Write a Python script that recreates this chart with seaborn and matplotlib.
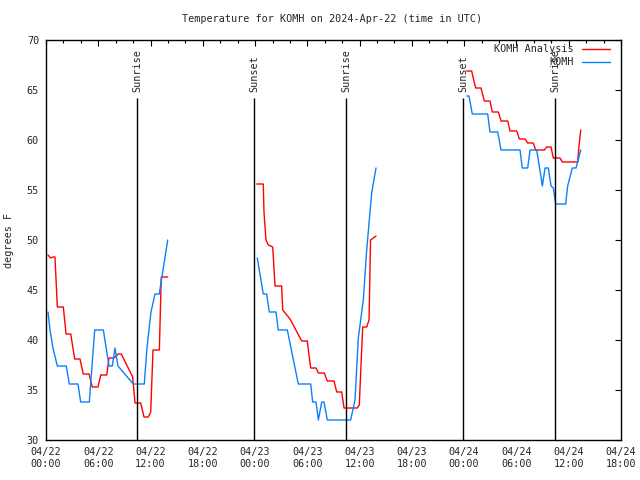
import numpy as np
import pandas as pd
import matplotlib
matplotlib.use("Agg")
import matplotlib.pyplot as plt
import matplotlib.dates as mdates
import seaborn as sns

# hours since 2024-04-22 00:00 UTC
ana_hours = [0.23, 0.54, 0.80, 1.03, 1.30, 1.99, 2.30, 2.84, 3.29, 3.90,
             4.28, 4.94, 5.31, 5.97, 6.28, 6.97, 7.23, 7.81, 8.26, 8.64,
             9.95, 10.22, 10.87, 11.25, 11.74, 12.02, 12.28, 13.01, 13.23, 13.97,
             24.19, 24.94, 25.02, 25.25, 25.52, 26.02, 26.29, 27.05, 27.17, 28.01,
             29.35, 29.99, 30.38, 30.99, 31.26, 31.94, 32.29, 33.06, 33.37, 33.94,
             34.21, 35.73, 35.96, 36.35, 36.81, 37.08, 37.25, 37.88,
             48.29, 48.86, 49.04, 49.32, 49.93, 50.31, 50.96, 51.23, 51.92, 52.23,
             53.00, 53.26, 54.03, 54.33, 54.98, 55.29, 55.93, 56.21, 57.20, 57.47,
             57.97, 58.23, 59.00, 59.26, 61.03, 61.18, 61.38]
ana_temp = [48.5, 48.2, 48.3, 48.3, 43.3, 43.3, 40.6, 40.6, 38.1, 38.1,
            36.6, 36.6, 35.3, 35.3, 36.5, 36.5, 38.2, 38.2, 38.6, 38.6,
            36.3, 33.7, 33.7, 32.3, 32.3, 32.8, 39.0, 39.0, 46.3, 46.3,
            55.6, 55.6, 52.8, 50.0, 49.5, 49.3, 45.4, 45.4, 43.0, 42.1,
            39.9, 39.9, 37.2, 37.2, 36.7, 36.7, 35.9, 35.9, 34.8, 34.8,
            33.2, 33.2, 33.5, 41.3, 41.3, 42.0, 50.0, 50.4,
            66.9, 66.9, 66.2, 65.2, 65.2, 63.9, 63.9, 62.8, 62.8, 61.9,
            61.9, 60.9, 60.9, 60.1, 60.1, 59.7, 59.7, 59.0, 59.0, 59.3,
            59.3, 58.2, 58.2, 57.8, 57.8, 59.4, 61.0]

obs_hours = [0.23, 0.46, 0.80, 1.30, 2.33, 2.67, 3.67, 3.98, 4.97, 5.59,
             6.58, 7.23, 7.61, 7.92, 8.26, 10.02, 11.28, 11.59, 12.05, 12.51,
             13.00, 13.97,
             24.25, 24.94, 25.33, 25.63, 26.40, 26.66, 27.70, 28.96, 30.38, 30.61,
             30.99, 31.26, 31.65, 31.91, 32.29, 34.97, 35.47, 35.85, 36.42, 36.81,
             37.38, 37.88,
             48.29, 48.55, 48.93, 50.70, 50.96, 51.85, 52.23, 54.41, 54.67, 55.29,
             55.56, 56.32, 56.82, 56.97, 57.28, 57.66, 57.97, 58.23, 58.51, 59.65,
             59.88, 60.41, 60.84, 61.38]
obs_temp = [42.8, 41.0, 39.2, 37.4, 37.4, 35.6, 35.6, 33.8, 33.8, 41.0,
            41.0, 37.4, 37.4, 39.2, 37.4, 35.6, 35.6, 39.2, 42.8, 44.6,
            44.6, 50.0,
            48.2, 44.6, 44.6, 42.8, 42.8, 41.0, 41.0, 35.6, 35.6, 33.8,
            33.8, 32.0, 33.8, 33.8, 32.0, 32.0, 34.0, 40.2, 44.0, 49.0,
            54.7, 57.2,
            64.4, 64.4, 62.6, 62.6, 60.8, 60.8, 59.0, 59.0, 57.2, 57.2,
            59.0, 59.0, 56.3, 55.4, 57.2, 57.2, 55.4, 55.2, 53.6, 53.6,
            55.4, 57.2, 57.2, 59.0]

sun_hours = [10.45, 23.87, 34.44, 47.86, 58.42]
sun_labels = ["Sunrise", "Sunset", "Sunrise", "Sunset", "Sunrise"]

start = pd.Timestamp("2024-04-22 00:00")
FS = 7.3


def make_frame(hours, temps, name):
    h = np.array(hours)
    return pd.DataFrame({
        "time": start + pd.to_timedelta(h, unit="h"),
        "temp": temps,
        "series": name,
        "seg": (h // 24).astype(int),  # one line piece per day
    })


df = pd.concat([make_frame(ana_hours, ana_temp, "KOMH Analysis"),
                make_frame(obs_hours, obs_temp, "KOMH")], ignore_index=True)

sns.set_style("white")
plt.rcParams['font.family'] = ['DejaVu Sans Mono', 'DejaVu Sans']

fig = plt.figure(figsize=(6.4, 4.8), dpi=100)
ax = fig.add_axes([46 / 640, 40 / 480, 575 / 640, 400 / 480])

sns.lineplot(data=df, x="time", y="temp", hue="series", units="seg",
             estimator=None, hue_order=["KOMH Analysis", "KOMH"],
             palette={"KOMH Analysis": "#ff0000", "KOMH": "#0a80ff"},
             linewidth=1.0, ax=ax)

# sunrise / sunset markers
sun_times = (start + pd.to_timedelta(sun_hours, unit="h")).to_pydatetime()
ax.vlines(sun_times, 30, 64.2, colors="black", linewidth=1.0)
for t, lab in zip(sun_times, sun_labels):
    ax.text(t, 64.8, lab, rotation=90, ha="center", va="bottom", fontsize=FS)

ax.set_xlim(start.to_pydatetime(), (start + pd.Timedelta(hours=66)).to_pydatetime())
ax.set_ylim(30, 70)
ax.set_yticks(range(30, 71, 5))
ax.xaxis.set_major_locator(mdates.HourLocator(byhour=[0, 6, 12, 18]))
ax.xaxis.set_minor_locator(mdates.HourLocator(byhour=range(0, 24, 2)))
ax.xaxis.set_major_formatter(mdates.DateFormatter("%m/%d\n%H:%M"))
ax.tick_params(which="both", direction="in", top=True, right=True,
               labelsize=FS, width=0.8, color="black")
ax.tick_params(which="major", length=4, pad=5)
ax.tick_params(which="minor", length=2.5)
for s in ax.spines.values():
    s.set_color("black")
    s.set_linewidth(1.0)

ax.set_xlabel("")
ax.set_ylabel("degrees F", fontsize=FS)
ax.yaxis.set_label_coords(-0.055, 0.5)

sns.move_legend(ax, "upper right", bbox_to_anchor=(0.988, 1.0), title=None,
                frameon=False, markerfirst=False, fontsize=FS,
                handlelength=2.8, handletextpad=0.8, labelspacing=0.3,
                borderaxespad=0)

fig.text(332 / 640, 1 - 19 / 480, "Temperature for KOMH on 2024-Apr-22 (time in UTC)",
         ha="center", va="center", fontsize=FS)

fig.savefig("out.png", dpi=100)
